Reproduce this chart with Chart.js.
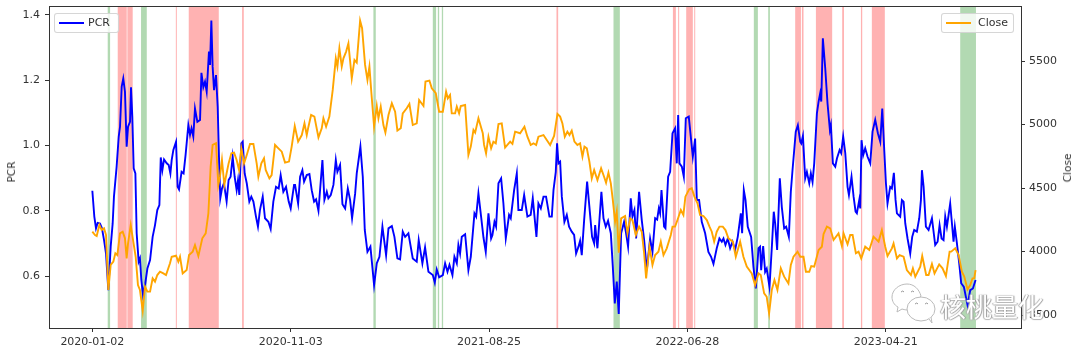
<!DOCTYPE html>
<html lang="en">
<head>
  <meta charset="UTF-8" />
  <title>PCR vs Close</title>
  <script src="https://cdn.jsdelivr.net/npm/chart.js"></script>
  <style>
    body { margin: 0; background: #fff; width: 1080px; height: 353px; overflow: hidden; position: relative; font-family: 'DejaVu Sans', sans-serif; color: #333; }
    canvas { display: block; filter: blur(0.4px); }
    .legend { position: absolute; top: 13px; height: 20px; box-sizing: border-box; background: rgba(255,255,255,0.8); border: 1px solid rgba(204,204,204,0.8); border-radius: 3px; font-size: 11px; line-height: 18px; }
    .legend i { position: absolute; top: 8px; left: 4px; width: 25px; height: 2px; }
    .legend span { position: absolute; top: 0; left: 33px; }
    .axis-title { position: absolute; font-size: 10.5px; line-height: 12px; transform: translate(-50%, -50%) rotate(-90deg); }
    .mark { position: absolute; left: 940px; top: 289px; font: 26px/34px 'Noto Sans CJK SC', sans-serif; color: #fff; text-shadow: 1px 0 1px #999, -1px 0 1px #aaa, 0 1px 1px #bbb; white-space: nowrap; }
    svg.wechat { position: absolute; left: 890px; top: 282px; }
  </style>
</head>
<body>
  <canvas id="pcrChart" width="1080" height="353"></canvas>
  <div class="axis-title" style="left:11px;top:172px">PCR</div>
  <div class="axis-title" style="left:1067px;top:168px">Close</div>
  <div class="legend" style="left:54px;width:65px"><i style="background:#0000ff"></i><span>PCR</span></div>
  <div class="legend" style="left:941px;width:73px"><i style="background:#ffa500"></i><span style="left:36px">Close</span></div>
  <svg class="wechat" width="50" height="44">
    <path d="M17 2c-8 0-15 6-15 13 0 4 2 8 6 10l-1 5 5-3c3 1 5 1 7 1l12-14C29 7 24 2 17 2z" fill="#fff" stroke="#bbb" stroke-width="1"/>
    <ellipse cx="31" cy="27" rx="14" ry="12" fill="#fff" stroke="#bbb" stroke-width="1"/>
    <path d="M39 37l3 4-1-6" fill="#fff" stroke="#bbb" stroke-width="1"/>
    <path d="M11 10q2-2 3 0M21 10q2-2 3 0M25 22q2-2 3 0M35 22q2-2 3 0" fill="none" stroke="#999" stroke-width="1"/>
  </svg>

  <script>
    // trading day index of each tick, and its date
    const tickDays = [0, 200, 400, 600, 800];
    const tickDates = ['2020-01-02', '2020-11-03', '2021-08-25', '2022-06-28', '2023-04-21'];

    const pcrDays = [0,2,3.7,5.4,7.7,9.7,11.8,13.8,16.1,18.5,20.5,21.8,24.5,26.6,27.9,29.6,31.2,32.9,34.6,36,38,39,40.3,41.7,43.4,44.7,46.7,48,49.4,51.1,53.4,55.5,58.2,60.8,63.2,65.5,67.6,69,70.6,72.3,75,77,78.7,80,81.7,84.4,86,87.4,90,92,94,96.8,98.5,100,101.8,103.5,105.9,108.6,110,111.9,113.6,115.3,117.6,118.7,120,121.3,122.7,124.7,126.4,127.7,129,130.7,132.7,135.4,137.4,139.4,141.5,143.5,145.5,146.9,148.2,150.2,151.6,153.6,155.7,158.3,160.3,162.4,165,167,169,171.8,174.1,177.5,179.8,182.5,185.2,187.9,189.9,192.6,195.3,198,200,203.4,204.4,207.5,209.5,211.8,213.5,216.2,218.9,221.2,223.6,225.6,228,232,234,236.4,238,240.4,243.1,245.5,247.1,249.8,252.2,254.9,257.6,259.9,261.9,265,266.6,270.3,272.7,274.7,277.4,280.4,284.1,286.8,289.5,292.5,296.2,298.6,302,304.6,307.6,310.3,313,315.4,318.7,323.1,327.1,329.1,332.8,335.5,338.9,343.3,345.3,347.3,349.7,353.4,355.7,358.1,360.1,363.1,365.1,367.5,369.1,370.8,372.5,375.9,379.2,381.6,385.3,387,389.3,392,394.4,396.7,399.4,402.1,403.4,405.5,407.1,409.5,412.2,414.5,416.9,418.6,420.2,421.9,425.3,428,429.6,433,435.4,438.7,442,444.1,447.8,449.8,452.2,454.9,457.5,460.9,463.3,465,467.3,468.6,470,471.7,473.4,476,478.4,480.7,483.4,485.8,487.8,490.2,491.8,493.5,495.9,498.9,501.2,503.9,506,507,509.3,511.3,513.3,515.4,517.7,520,522.8,524.8,526.8,528.8,530.8,533.2,536.2,538.2,540.2,542.9,544.6,546.6,548.3,551.3,554,556.4,559.1,562.4,564.8,567.5,569.5,571.2,572.5,573.9,576.5,577.9,580.6,582.6,585,587.6,589.3,590.7,592,594.4,596.4,598.4,601.4,603.1,605.5,607.8,609.5,611.8,614.5,617.9,621.2,623.9,626.3,629.6,632.3,634.7,636.4,638.4,640.7,643.1,645.5,648.1,650.8,653.9,655.2,656.9,658.6,660.9,664.3,666.6,669,671.7,673.3,674.4,676.4,678.4,680,682.8,685.1,687.1,688.5,690.5,693.2,695.2,697.6,699.6,702.3,704.3,706,709.3,711.4,713.8,714.8,716.5,718.8,720.5,722.9,724.5,726.2,727.9,730.6,732.3,733.9,735,736.6,739,741.3,743.7,744.7,746.7,749.1,750.8,753.5,755.1,757.1,759.2,761.5,762.9,765.5,767.6,769.6,770.9,773.3,774.3,775.6,777.3,779.3,781.7,784.4,786.7,789.4,792.1,794.5,796.5,798.5,800.2,801.8,804.5,806.2,808.2,809.9,811.3,814.6,816.3,818,819.7,822,824.7,826.7,828.7,831.4,833.8,835.5,836.5,838.2,840.5,843.2,846.6,849.9,852.3,854.3,856.3,858.3,860,861.7,865,868.4,869.7,871.8,874.1,876.1,878.8,882.5,885.2,887.9,890.6];
    const pcrValues = [.861,.782,.746,.763,.761,.746,.71,.669,.557,.69,.761,.843,.935,1.027,1.057,1.18,1.205,1.164,.996,1.057,1.072,1.178,1.088,.93,.914,.731,.644,.654,.588,.542,.578,.623,.649,.72,.756,.802,.817,.963,.924,.957,.945,.94,.914,.955,.986,1.011,.873,.865,.919,.914,.97,1.062,1.032,1.052,1.027,1.113,1.072,1.078,1.222,1.178,1.195,1.164,1.287,1.246,1.382,1.241,1.169,1.215,1.118,.965,.838,.868,.884,.828,.894,.904,.965,.904,.863,.894,.848,1.006,1.011,.914,.884,.828,.843,.828,.782,.751,.802,.843,.777,.766,.744,.828,.873,.868,.909,.858,.873,.828,.807,.879,.879,.822,.904,.924,.889,.909,.912,.863,.828,.835,.8,.955,.833,.858,.838,.848,.879,.955,.919,.94,.82,.807,.868,.833,.777,.853,.914,.996,.904,.741,.674,.69,.572,.639,.659,.751,.664,.746,.753,.72,.654,.651,.736,.72,.731,.654,.644,.71,.639,.688,.613,.603,.58,.62,.596,.603,.639,.613,.634,.603,.659,.639,.695,.669,.72,.728,.618,.659,.792,.782,.853,.782,.718,.674,.792,.715,.725,.766,.751,.884,.899,.822,.715,.751,.787,.777,.863,.914,.802,.802,.848,.782,.787,.838,.72,.822,.807,.843,.843,.782,.782,.863,.919,1.006,.945,.95,.843,.766,.787,.751,.736,.726,.669,.69,.708,.664,.771,.889,.812,.72,.7,.756,.685,.771,.858,.777,.751,.769,.731,.629,.516,.583,.484,.731,.766,.731,.69,.838,.782,.802,.715,.858,.771,.71,.618,.715,.674,.777,.773,.807,.792,.863,.751,.746,.904,.919,1.037,1.052,.945,1.093,.945,.935,.904,1.083,1.088,1.037,.965,1.021,.833,.833,.766,.731,.674,.659,.637,.685,.715,.705,.715,.695,.715,.685,.705,.68,.72,.792,.731,.863,.833,.751,.72,.629,.562,.685,.69,.618,.692,.613,.623,.567,.685,.797,.761,.68,.899,.812,.746,.751,.72,.858,.924,1.042,1.062,1.011,1.006,1.029,.899,.919,.884,.914,.888,.945,1.098,1.134,1.159,1.134,1.328,1.236,1.129,1.047,1.062,.945,.935,.96,.986,.976,1.027,.976,.873,.848,.904,.843,.797,.792,.833,.807,1.016,.97,.991,.965,.945,1.042,1.078,1.037,1.011,1.113,.986,.884,.822,.873,.868,.916,.833,.792,.782,.833,.828,.761,.715,.669,.72,.741,.736,.777,.833,.924,.873,.751,.741,.777,.695,.705,.756,.715,.71,.782,.751,.822,.705,.751,.7,.639,.578,.567,.511,.557,.562,.588];

    const closeDays = [0,2.7,4.4,7.1,9.4,11.8,13.8,16.1,18.5,21.2,23.2,25.2,27.9,30.6,32.9,34.6,36,38.7,41.3,43.7,46,48,50.8,53.1,55.5,58.2,60.8,63.2,65.5,68.2,71.6,74.3,78.3,80,84.4,86.7,88.4,91.1,95.1,97.5,101.2,103.5,106.9,110.9,114.3,117,119.3,121.3,124.7,127,128.7,130.7,133.1,135.4,137.4,140.2,142.9,145.5,147.9,150.2,153,155.7,159,162.4,165.7,167.4,170.4,173.1,174.8,178.5,180.8,184.2,187.6,191,194.3,198.3,201,204.1,207.5,211.2,213.9,216.2,217.9,220.6,223.9,228,231.3,233,235.7,239,242.4,245.5,247.1,249.1,251.5,253.2,255.9,258.2,261.6,264.3,266.6,270,272,275,277.4,279.4,281.4,284.1,286.8,288.5,290.8,293.5,295.5,298.6,302,305.3,307.6,311,313,317,319.7,323.1,327.1,329.5,333.9,335.9,339.9,342.3,346.3,349.7,353.4,356.7,358.4,360.7,362.4,365.8,367.5,369.8,371.5,375.9,379.2,381.6,384.3,386,389.3,393.7,395,397,399.4,402.1,404.4,406.8,409.5,412.8,416.2,421.3,423.6,426.3,431.3,435.7,438.7,442,444.8,447.5,449.8,454.9,458.2,461.6,465.6,469,471.7,474,476.4,479,481.1,483.4,486.1,489.1,491.8,494.2,496.2,498.6,501.2,503.6,506,509.3,513,516,518,520.4,522.8,524.8,527.1,528.8,530.8,533.2,537.2,539.6,542.3,544.6,548,551.3,554,556.4,558.4,561.8,564.8,567.5,570.8,573.2,575.9,579.2,583.3,585,587.6,590,593.4,596,598,601.8,604.4,607.1,610.2,612.8,616.2,619.6,622.3,624.6,627,629.6,632.3,635.7,638.4,641.4,645.8,648.8,653.2,656.5,659.9,664.9,668.3,671.7,674,677.4,680,682.4,685.1,687.8,690.8,694.2,697.6,701.9,704.3,707,711.1,713.8,717.1,719.5,722.9,724.9,727.9,732.3,735.6,737.3,740.7,744,747.4,752.4,755.8,757.5,761.5,764.2,766.6,769.9,772.6,775.3,779.3,783.4,787.7,792.8,796.1,799.5,801.8,806.2,807.9,811.3,814,818,821.3,825.4,827.4,829.8,834.8,836.8,840.8,843.2,846.6,849.2,853.9,857.3,860.7,864.4,866,870.1,873.5,876.8,879.2,882.5,885.2,887.5,889.2,890.6];
    const closeValues = [4156,4130,4122,4209,4169,4183,4130,3697,3894,3920,3986,3972,4143,4156,4104,3946,4064,4209,4078,3959,3736,3697,3534,3723,3684,3684,3789,3763,3815,3841,3828,3815,3907,3959,3967,3920,3959,3828,3854,3972,3999,4051,3965,4104,4143,4301,4668,4839,4852,4524,4589,4721,4524,4616,4694,4773,4778,4721,4642,4812,4694,4760,4847,4847,4694,4589,4694,4734,4642,4576,4602,4839,4812,4786,4700,4708,4826,4988,4865,4917,5009,4917,4983,5075,5062,4899,4970,5049,4983,5062,5272,5521,5456,5600,5456,5521,5574,5639,5364,5508,5487,5818,5758,5469,5351,5456,5246,4983,5146,5049,5141,4996,4936,5075,5167,5101,4952,4970,5088,5128,5162,4996,5009,5193,5146,5338,5345,5285,5246,5101,5101,5259,5206,5233,5088,5088,5141,5088,5146,5154,4760,4826,4957,4936,5049,4931,4839,4773,4904,4812,4865,4852,5004,5009,4818,4865,4847,4944,4931,4983,4904,4839,4852,4839,4904,4917,4878,4839,4910,5083,5062,5009,4904,4944,4917,4952,4865,4839,4852,4747,4826,4812,4708,4576,4642,4563,4655,4589,4542,4621,4537,4406,4235,4314,3991,4261,4280,4143,4261,4248,4130,4196,4156,3986,3789,4038,3894,3972,3999,4078,3972,4025,4130,4196,4196,4248,4327,4288,4432,4490,4498,4432,4379,4288,4280,4248,4196,4156,4078,4156,4196,4196,4169,4104,4078,3959,4078,3959,3881,3828,3736,3828,3815,3671,3644,3513,3697,3776,3697,3868,3802,3749,3894,3959,3999,3959,3959,3841,3841,3886,3881,4012,4038,4138,4196,4183,4091,4143,4043,4143,4057,4130,4130,3986,3999,3946,4038,4012,4117,4078,4169,4038,3965,4025,4064,3946,3972,3959,3854,3815,3868,3802,3881,3965,3815,3815,3902,3828,3899,3868,3807,3999,3999,4025,3972,3841,3802,3702,3736,3789,3789,3854];

    // start and end day of each shaded span
    const redSpans = [[25.6,34.7],[35.3,40.7],[84.2,85.2],[97.2,127.5],[151,152.7],[468,469.7],[585.4,588.4],[590.7,591.7],[598.8,605.5],[606.9,607.9],[708.7,714.5],[715.5,717.1],[729.6,746],[756.1,757.9],[775,776.3],[786,799.1]];
    const greenSpans = [[15.5,17.9],[49.1,54.9],[283.4,285.8],[343.3,346.6],[348.4,349.7],[352.4,353.7],[525.5,531.9],[667,671.1],[681.5,683.2],[875.1,891]];

    const inkColor = '#333333';

    const spanPlugin = {
      id: 'spans',
      beforeDatasetsDraw(chart) {
        const { ctx, chartArea, scales } = chart;
        const fillSpans = (spans, color) => {
          ctx.fillStyle = color;
          spans.forEach(([start, end]) => {
            const x0 = scales.x.getPixelForValue(start);
            const x1 = scales.x.getPixelForValue(end);
            ctx.fillRect(x0, chartArea.top, x1 - x0, chartArea.height);
          });
        };
        fillSpans(redSpans, 'rgba(255, 0, 0, 0.3)');
        fillSpans(greenSpans, 'rgba(0, 128, 0, 0.3)');
      },
      afterDraw(chart) {
        const { ctx, chartArea } = chart;
        ctx.strokeStyle = inkColor;
        ctx.lineWidth = 1;
        ctx.strokeRect(chartArea.left + 0.5, chartArea.top + 0.5, chartArea.width, chartArea.height);
      }
    };

    const toPoints = (days, values) => days.map((d, i) => ({ x: d, y: values[i] }));
    const tickFont = { family: 'DejaVu Sans', size: 11 };
    const tickGrid = { display: true, drawOnChartArea: false, drawTicks: true, tickColor: inkColor, tickLength: 4 };

    // fix the margins so the plot box lands where the reference has it
    const fitVertical = width => s => { s.width = width; s.paddingTop = 0; s.paddingBottom = 0; };

    new Chart(document.getElementById('pcrChart'), {
      type: 'line',
      plugins: [spanPlugin],
      data: {
        datasets: [
          { label: 'Close', data: toPoints(closeDays, closeValues), yAxisID: 'y2', borderColor: '#ffa500', borderWidth: 1.9, pointRadius: 0, tension: 0, order: 0 },
          { label: 'PCR', data: toPoints(pcrDays, pcrValues), yAxisID: 'y', borderColor: '#0000ff', borderWidth: 1.9, pointRadius: 0, tension: 0, order: 1 }
        ]
      },
      options: {
        responsive: false,
        animation: false,
        layout: { padding: { top: 6, left: 0, right: 0, bottom: 0 } },
        plugins: { legend: { display: false }, tooltip: { enabled: false } },
        scales: {
          x: {
            type: 'linear',
            min: -43.7,
            max: 936.4,
            afterFit: s => { s.height = 25; s.paddingLeft = 0; s.paddingRight = 0; },
            afterBuildTicks: s => { s.ticks = tickDays.map(v => ({ value: v })); },
            grid: tickGrid,
            border: { display: false },
            ticks: { color: inkColor, font: tickFont, padding: 4, maxRotation: 0, autoSkip: false, callback: v => tickDates[tickDays.indexOf(v)] }
          },
          y: {
            position: 'left',
            min: 0.441,
            max: 1.4266,
            afterFit: fitVertical(49),
            afterBuildTicks: s => { s.ticks = [0.6, 0.8, 1.0, 1.2, 1.4].map(v => ({ value: v })); },
            grid: tickGrid,
            border: { display: false },
            ticks: { color: inkColor, font: tickFont, padding: 5, callback: v => v.toFixed(1) }
          },
          y2: {
            position: 'right',
            min: 3398,
            max: 5933,
            afterFit: fitVertical(59),
            afterBuildTicks: s => { s.ticks = [3500, 4000, 4500, 5000, 5500].map(v => ({ value: v })); },
            grid: tickGrid,
            border: { display: false },
            ticks: { color: inkColor, font: tickFont, padding: 4, callback: v => String(v) }
          }
        }
      }
    });
  </script>
  <div class="mark">核桃量化</div>
</body>
</html>
